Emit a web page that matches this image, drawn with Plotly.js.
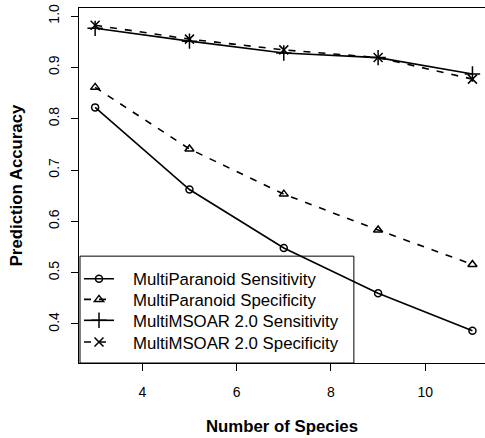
<!DOCTYPE html>
<html><head><meta charset="utf-8">
<script src="https://cdn.plot.ly/plotly-3.0.1.min.js"></script>
<style>html,body{margin:0;padding:0;background:#fff;overflow:hidden}</style>
</head><body><div id="chart" style="width:485px;height:438px"></div>
<script>
const species = [3, 5, 7, 9, 11];
const mpSens = [0.822, 0.662, 0.548, 0.460, 0.387];
const mpSpec = [0.861, 0.741, 0.653, 0.583, 0.516];
const mmSens = [0.976, 0.951, 0.928, 0.919, 0.887];
const mmSpec = [0.982, 0.955, 0.934, 0.919, 0.877];
const names = ["MultiParanoid Sensitivity", "MultiParanoid Specificity", "MultiMSOAR 2.0 Sensitivity", "MultiMSOAR 2.0 Specificity"];
const F = "Liberation Sans, Arial, Helvetica, sans-serif";
const pad = '\u00a0\u00a0\u00a0';
function tr(y, name, sym, dash, sz, lg) {
  return {x: species, y: y, name: pad + name, type: 'scatter', mode: 'lines+markers', legend: lg,
    line: {color: '#000', width: 1.6, dash: dash},
    marker: {symbol: sym, size: sz, color: '#000', line: {color: '#000', width: 1.5}}};
}
const data = [
  tr(mpSens, names[0], 'circle-open', 'solid', 7, 'legend'),
  tr(mpSpec, names[1], 'triangle-up-open', '7px,8px', 8, 'legend2'),
  tr(mmSens, names[2], 'cross-thin-open', 'solid', 11, 'legend3'),
  tr(mmSpec, names[3], 'x-thin-open', '7px,8px', 9, 'legend4')
];
function leg(y) {
  return {x: 0.0, y: y, xanchor: 'left', yanchor: 'middle', bgcolor: 'rgba(0,0,0,0)', borderwidth: 0,
    font: {size: 16.8}};
}
const layout = {
  width: 485, height: 438,
  margin: {l: 79, r: 0, t: 8, b: 75},
  paper_bgcolor: '#fff', plot_bgcolor: '#fff',
  font: {family: F, size: 14, color: '#000'},
  xaxis: {range: [2.658, 11.266], tickvals: [4, 6, 8, 10], ticks: 'outside', ticklen: 7, tickwidth: 1, tickcolor: '#000',
    ticklabelstandoff: 9,
    showgrid: false, zeroline: false, showline: true, mirror: true, linecolor: '#000', linewidth: 1,
    tickfont: {size: 14}, title: {text: '<b>Number of Species</b>', font: {size: 16.8}, standoff: 21}},
  yaxis: {range: [0.324, 1.0156], tickvals: [0.4, 0.5, 0.6, 0.7, 0.8, 0.9, 1.0], ticktext: ['0.4','0.5','0.6','0.7','0.8','0.9','1.0'],
    tickangle: -90, ticks: 'outside', ticklen: 7, tickwidth: 1, tickcolor: '#000', ticklabelstandoff: 6,
    showgrid: false, zeroline: false, showline: true, mirror: false, linecolor: '#000', linewidth: 1,
    tickfont: {size: 14}, title: {text: '<b>Prediction Accuracy</b>', font: {size: 16.8}, standoff: 19}},
  showlegend: true,
  legend: leg(0.237), legend2: leg(0.179), legend3: leg(0.120), legend4: leg(0.059),
  shapes: [{type: 'rect', xref: 'paper', yref: 'paper', x0: 0.0025, x1: 0.677, y0: 0, y1: 0.301,
    line: {color: '#000', width: 1}, fillcolor: 'rgba(0,0,0,0)'}]
};
Plotly.newPlot('chart', data, layout, {displayModeBar: false, staticPlot: true});
</script></body></html>
